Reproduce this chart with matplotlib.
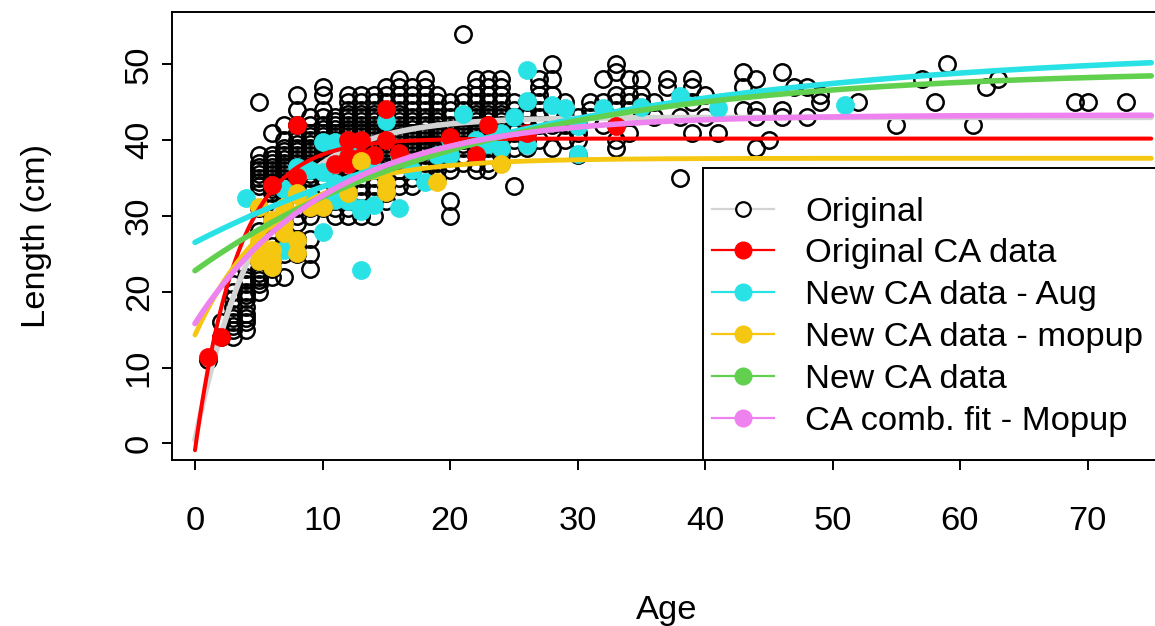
import numpy as np
import matplotlib
matplotlib.use("Agg")
import matplotlib.pyplot as plt
from matplotlib.lines import Line2D
from matplotlib.patches import Rectangle

plt.rcParams['font.family'] = ['Liberation Sans', 'DejaVu Sans']

# ---------------- data ----------------
# Original data: lengths (cm) observed at each age (years)
orig_ages = [1, 2, 3, 4, 5, 6, 7, 8, 9, 10,
             11, 12, 13, 14, 15, 16, 17, 18, 19, 20,
             21, 22, 23, 24, 25, 26, 27, 28, 29, 30,
             31, 32, 33, 34, 35, 36, 37, 38, 39, 40,
             41, 43, 44, 45, 46, 47, 48, 49, 52, 55,
             57, 58, 59, 61, 62, 63, 69, 70, 73]
orig_lengths = [
    [11],
    [14, 16],
    [14, 15, 15.5, 16, 16.5, 17, 18, 19, 20, 21],
    [15, 16, 16.5, 17, 18, 19, 19.5, 20, 21, 21.5, 22, 23],
    [20, 21, 21.5, 22, 22.5, 23, 24, 25, 26, 28, 31, 33, 34, 34.5, 35, 35.5, 36, 36.5,
     37, 38, 45],
    [22, 23, 24, 25, 26, 27, 29, 30, 31, 32, 33, 33.5, 34, 34.5, 35, 35.5, 36, 36.5,
     37, 37.5, 38, 41],
    [22, 25, 27, 28, 29, 30, 31, 32, 33, 34, 34.5, 35, 35.5, 36, 36.5, 37, 37.5, 38,
     38.5, 39, 40, 42],
    [25, 26, 27, 29, 30, 31, 32, 33, 34, 35, 35.5, 36, 36.5, 37, 37.5, 38, 38.5, 39,
     39.5, 40, 41, 42, 44, 46],
    [23, 25, 27, 30, 31, 32, 33, 34, 35, 35.5, 36, 36.5, 37, 37.5, 38, 38.5, 39, 39.5,
     40, 40.5, 41, 42, 43],
    [31, 32, 33, 34, 35, 36, 36.5, 37, 37.5, 38, 38.5, 39, 39.5, 40, 40.5, 41, 41.5,
     42, 43, 44, 46, 47],
    [30, 31, 32, 33, 34, 35, 36, 36.5, 37, 37.5, 38, 38.5, 39, 39.5, 40, 40.5, 41,
     41.5, 42, 42.5, 43],
    [30, 31, 32, 33, 34, 35, 36, 36.5, 37, 37.5, 38, 38.5, 39, 39.5, 40, 40.5, 41,
     41.5, 42, 42.5, 43, 43.5, 44, 45, 46],
    [30, 31, 32, 33, 34, 35, 36, 36.5, 37, 37.5, 38, 38.5, 39, 39.5, 40, 40.5, 41,
     41.5, 42, 42.5, 43, 43.5, 44, 45, 46],
    [30, 32, 33, 34, 35, 36, 36.5, 37, 37.5, 38, 38.5, 39, 39.5, 40, 40.5, 41, 41.5,
     42, 42.5, 43, 43.5, 44, 45, 46],
    [32, 33, 34, 35, 36, 36.5, 37, 37.5, 38, 38.5, 39, 39.5, 40, 40.5, 41, 41.5, 42,
     42.5, 43, 43.5, 44, 45, 46, 47],
    [34, 35, 36, 37, 37.5, 38, 38.5, 39, 39.5, 40, 40.5, 41, 41.5, 42, 42.5, 43, 43.5,
     44, 45, 46, 47, 48],
    [34, 35, 36, 37, 37.5, 38, 38.5, 39, 39.5, 40, 40.5, 41, 41.5, 42, 42.5, 43, 44,
     45, 46, 47],
    [35, 36, 37, 38, 38.5, 39, 39.5, 40, 40.5, 41, 41.5, 42, 42.5, 43, 44, 45, 46, 47,
     48],
    [35, 36, 37, 38, 38.5, 39, 39.5, 40, 40.5, 41, 41.5, 42, 42.5, 43, 44, 45, 46],
    [30, 32, 36, 37, 38, 38.5, 39, 39.5, 40, 40.5, 41, 41.5, 42, 43, 44, 45],
    [37, 38, 39, 39.5, 40, 40.5, 41, 41.5, 42, 42.5, 43, 44, 45, 46, 54],
    [36, 37, 38, 39, 39.5, 40, 40.5, 41, 41.5, 42, 42.5, 43, 43.5, 44, 45, 46, 47, 48],
    [36, 37, 38, 39, 39.5, 40, 40.5, 41, 41.5, 42, 42.5, 43, 43.5, 44, 45, 46, 47, 48],
    [37, 38, 39, 40, 40.5, 41, 41.5, 42, 42.5, 43, 43.5, 44, 45, 46, 47, 48],
    [34, 39, 40, 41, 42, 43, 44, 45],
    [39, 40, 41, 42, 43, 44, 45],
    [40, 42, 43, 44, 45, 46, 47, 48],
    [39, 42, 44, 46, 48, 50],
    [40, 42, 43, 44, 45],
    [38, 40, 41, 42, 43],
    [43, 44, 45],
    [42, 45, 48],
    [39, 40, 42, 44, 45, 46, 49, 50],
    [41, 43, 44, 45, 46, 48],
    [44, 45, 46, 48],
    [43, 45],
    [47, 48],
    [35, 43],
    [41, 45, 47, 48],
    [43, 46],
    [41],
    [44, 47, 49],
    [39, 43, 44, 48],
    [40],
    [43, 44, 49],
    [47],
    [43, 47],
    [45, 46],
    [45],
    [42],
    [48],
    [45],
    [50],
    [42],
    [47],
    [48],
    [45],
    [45],
    [45],
]

# Original CA data
ca_age = [1, 2, 6, 8, 8, 11, 12, 12, 12, 13, 13, 14, 15, 15, 16, 20, 22, 23, 26, 33]
ca_len = [11.4, 14.0, 34.1, 42.0, 35.1, 36.9, 40.0, 36.9, 37.8, 40.0, 37.8, 38.0,
          44.1, 40.0, 38.3, 40.4, 38.0, 42.0, 41.0, 41.9]

# New CA data - Aug
aug_age = [4, 7, 7, 8, 9, 9, 10, 10, 10, 11, 11, 11, 12, 12, 13, 13, 13, 14, 14,
           15, 16, 16, 17, 18, 19, 20, 20, 21, 22, 23, 24, 24, 25, 26, 26, 26,
           28, 29, 30, 30, 32, 35, 38, 41, 51]
aug_len = [32.4, 25.5, 33.6, 36.5, 32.3, 36.0, 39.8, 35.8, 27.9, 39.8, 32.1, 34.3,
           31.9, 39.0, 30.6, 22.9, 31.0, 31.5, 36.0, 42.5, 31.0, 38.0, 36.0, 34.5,
           38.0, 38.0, 40.0, 43.4, 40.0, 39.5, 38.9, 41.0, 43.1, 49.2, 45.2, 39.4,
           44.6, 44.2, 41.8, 38.2, 44.2, 44.4, 45.8, 44.2, 44.6]

# New CA data - mopup
mop_age = [5, 5, 5, 5, 6, 6, 6, 6, 7, 7, 7, 8, 8, 8, 8, 9, 10, 12, 13, 15, 15, 19, 24]
mop_len = [24.0, 25.1, 26.8, 31.2, 23.3, 24.2, 25.5, 29.5, 27.7, 28.9, 31.2, 25.1,
           26.8, 32.7, 33.0, 31.2, 31.2, 33.0, 37.2, 33.1, 34.3, 34.5, 36.8]

# von Bertalanffy fits (Linf, K, t0)
vb_original = (43.0, 0.195, -0.05)
vb_ca = (40.2, 0.297, 0.075)
vb_aug = (52.3, 0.0335, -21.1)
vb_mopup = (37.6, 0.16, -2.99)
vb_newca = (49.35, 0.0455, -13.6)
vb_comb = (43.3, 0.095, -4.78)

labels = ["Original", "Original CA data", "New CA data - Aug",
          "New CA data - mopup", "New CA data", "CA comb. fit - Mopup"]
col_gray = "#D3D3D3"
col_red = "#FF0000"
col_cyan = "#28E2E5"
col_orange = "#F5C710"
col_green = "#61D04F"
col_pink = "#EE82EE"

x_ticks = [0, 10, 20, 30, 40, 50, 60, 70]
y_ticks = [0, 10, 20, 30, 40, 50]


def vb(t, p):
    linf, k, t0 = p
    return linf * (1.0 - np.exp(-k * (t - t0)))


# ---------------- figure ----------------
W, H = 1155, 626
fig = plt.figure(figsize=(W / 100, H / 100), dpi=100)
ax_l, ax_r, ax_t, ax_b = 171.7, 1161.0, 12.0, 460.0
ax = fig.add_axes([ax_l / W, 1 - ax_b / H, (ax_r - ax_l) / W, (ax_b - ax_t) / H])

FS = 24.8

xs = np.concatenate([[a] * len(l) for a, l in zip(orig_ages, orig_lengths)])
ys = np.concatenate([l for l in orig_lengths])
ax.plot(xs, ys, linestyle='none', marker='o', ms=11.8, mfc='none', mec='black',
        mew=1.8, zorder=2)

t = np.linspace(0, 75, 400)
ax.plot(t, vb(t, vb_original), color=col_gray, lw=4.0, zorder=3,
        solid_capstyle='round')

ax.plot(aug_age, aug_len, linestyle='none', marker='o', ms=13, mfc=col_cyan,
        mec=col_cyan, mew=0.5, zorder=4)
ax.plot(ca_age, ca_len, linestyle='none', marker='o', ms=13, mfc=col_red,
        mec=col_red, mew=0.5, zorder=4)
ax.plot(mop_age, mop_len, linestyle='none', marker='o', ms=13, mfc=col_orange,
        mec=col_orange, mew=0.5, zorder=4)

ax.plot(t, vb(t, vb_ca), color=col_red, lw=2.9, zorder=5, solid_capstyle='round')
ax.plot(t, vb(t, vb_aug), color=col_cyan, lw=4.0, zorder=5, solid_capstyle='round')
ax.plot(t, vb(t, vb_mopup), color=col_orange, lw=3.5, zorder=5, solid_capstyle='round')
ax.plot(t, vb(t, vb_newca), color=col_green, lw=4.0, zorder=5, solid_capstyle='round')
ax.plot(t, vb(t, vb_comb), color=col_pink, lw=4.0, zorder=5, solid_capstyle='round')

ax.set_xlim((ax_l - 195) / 12.75, (ax_r - 195) / 12.75)
ax.set_ylim((443.3 - ax_b) / 7.58, (443.3 - ax_t) / 7.58)
ax.set_xticks(x_ticks)
ax.set_yticks(y_ticks)
ax.tick_params(axis='both', direction='out', length=7.2, width=1.4, labelsize=FS,
               colors='black')
ax.tick_params(axis='x', pad=26)
ax.tick_params(axis='y', pad=5.0)
for lab in ax.get_yticklabels():
    lab.set_rotation(90)
    lab.set_va('center')
for s in ax.spines.values():
    s.set_linewidth(1.4)

ax.set_xlabel("Age", fontsize=FS)
ax.set_ylabel("Length (cm)", fontsize=FS)
ax.xaxis.set_label_coords(0.5, (ax_b - 594.5) / (ax_b - ax_t))
ax.yaxis.set_label_coords((52 - ax_l) / (ax_r - ax_l), 0.5)

# legend box
lx0 = (703 - ax_l) / (ax_r - ax_l)
ly1 = (ax_b - 168) / (ax_b - ax_t)
ax.add_patch(Rectangle((lx0, 0), 1.2 - lx0, ly1, transform=ax.transAxes,
                       facecolor='white', edgecolor='black', lw=1.4, zorder=6,
                       clip_on=False))
handles = [
    Line2D([], [], color=col_gray, lw=1.6, marker='o', ms=10.5, mfc='white',
           mec='black', mew=1.6),
    Line2D([], [], color=col_red, lw=1.6, marker='o', ms=12, mfc=col_red, mec=col_red),
    Line2D([], [], color=col_cyan, lw=1.6, marker='o', ms=12, mfc=col_cyan, mec=col_cyan),
    Line2D([], [], color=col_orange, lw=1.6, marker='o', ms=12, mfc=col_orange, mec=col_orange),
    Line2D([], [], color=col_green, lw=1.6, marker='o', ms=12, mfc=col_green, mec=col_green),
    Line2D([], [], color=col_pink, lw=1.6, marker='o', ms=12, mfc=col_pink, mec=col_pink),
]
leg = ax.legend(handles, labels, loc='upper left',
                bbox_to_anchor=((711.7 - ax_l) / (ax_r - ax_l), (ax_b - 196.5) / (ax_b - ax_t)),
                frameon=False, borderpad=0, borderaxespad=0, fontsize=FS,
                handlelength=1.82, handletextpad=0.9, labelspacing=0.31)
leg.set_zorder(7)

fig.savefig("out.png", dpi=100)
